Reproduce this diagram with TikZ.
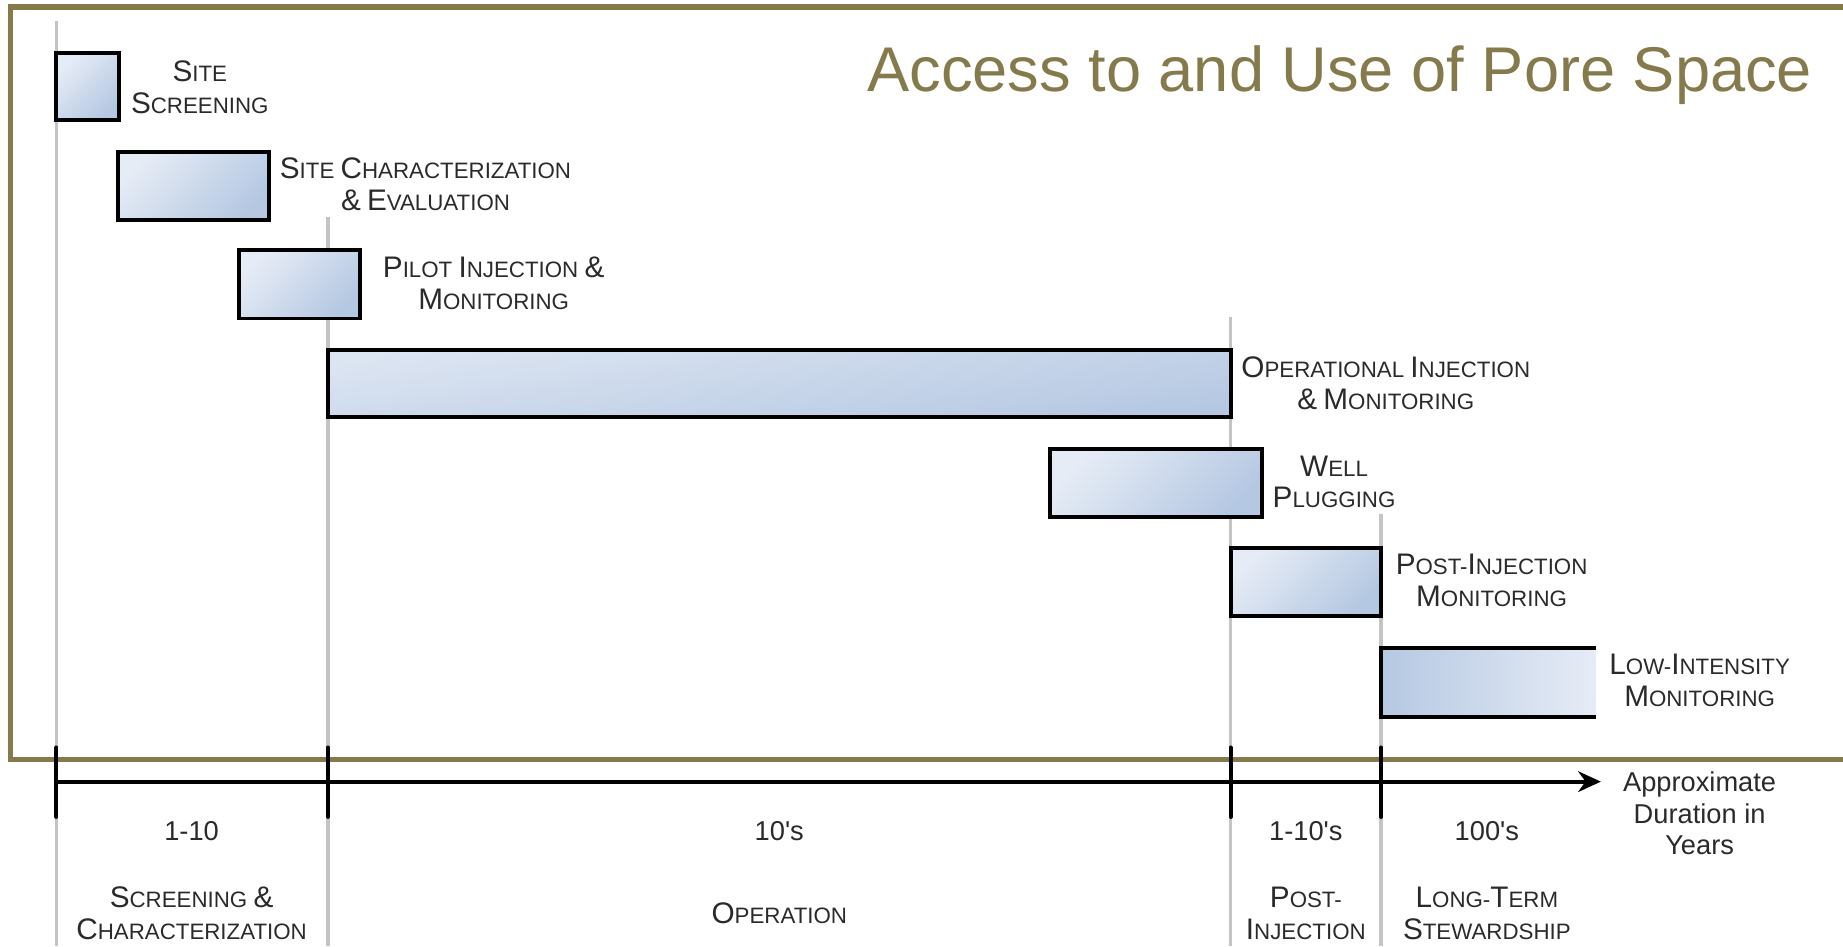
\documentclass[tikz,border=0pt]{standalone}
\usepackage{fontspec}
\setmainfont{Liberation Sans}
\usetikzlibrary{arrows.meta}

\definecolor{framegold}{HTML}{857A4B}
\definecolor{barblue}{HTML}{B5C8E2}
\definecolor{barlight}{HTML}{E6ECF6}
\definecolor{linegrey}{HTML}{C4C4C4}
\definecolor{textgrey}{HTML}{2A2A2A}

% larger first letters for the small-caps look
\newcommand\bigc[1]{{\fontsize{14.4}{15.4}\selectfont #1}}

\begin{document}
\begin{tikzpicture}[
    x=0.02cm, y=-0.02cm,
    every node/.style = {text=textgrey, align=center, font=\fontsize{10.8}{15.4}\selectfont},
    bar/.style        = {draw=black, line width=1.9pt, top color=barlight, bottom color=barblue, shading angle=45},
    longbar/.style    = {bar, top color=barlight!80!barblue, shading angle=8},
    era/.style        = {draw=linegrey, line width=1.6pt},
    tickmark/.style   = {line width=2pt, line cap=round},
    num/.style        = {font=\fontsize{13.2}{15.2}\selectfont}
    ]
      \useasboundingbox (0,0) rectangle (1568,805);

      % phase boundaries -----------------------------------------
      \draw[era] (48,18)    -- (48,805);
      \draw[era] (279,185)  -- (279,805);
      \draw[era] (1047,270) -- (1047,805);
      \draw[era] (1175,437) -- (1175,805);

      % frame ----------------------------------------------------
      \draw[framegold, line width=2.5pt] (1575,6) -- (9,6) -- (9,646) -- (1575,646);
      \node[font=\fontsize{30.6}{36}\selectfont, text=framegold, anchor=base east] (title) at (1548,78) {Access to and Use of Pore Space};

      % bars -----------------------------------------------------
      \draw[bar]     (48,45)    rectangle (101,102);
      \draw[bar]     (100,129)  rectangle (229,187);
      \draw[bar]     (203,213)  rectangle (306,271);
      \draw[longbar] (279,298)  rectangle (1047,355);
      \draw[bar]     (893,382)  rectangle (1074,440);
      \draw[bar]     (1047,466) rectangle (1175,524);
      \shade[left color=barblue, right color=barlight] (1175,551) rectangle (1358,610);
      \draw[line width=1.9pt] (1358,551) -- (1175,551) -- (1175,610) -- (1358,610);

      % bar labels -----------------------------------------------
      \node (screen)  at (170,74)   {\bigc{S}ITE\\\bigc{S}CREENING};
      \node (charact) at (362,157)  {\bigc{S}ITE \bigc{C}HARACTERIZATION\\\bigc{\&} \bigc{E}VALUATION};
      \node (pilot)   at (420,241)  {\bigc{P}ILOT \bigc{I}NJECTION \bigc{\&}\\\bigc{M}ONITORING};
      \node (operinj) at (1179,326) {\bigc{O}PERATIONAL \bigc{I}NJECTION\\\bigc{\&} \bigc{M}ONITORING};
      \node (plug)    at (1135,410) {\bigc{W}ELL\\\bigc{P}LUGGING};
      \node (postmon) at (1269,494) {\bigc{P}OST-\bigc{I}NJECTION\\\bigc{M}ONITORING};
      \node (lowmon)  at (1446,579) {\bigc{L}OW-\bigc{I}NTENSITY\\\bigc{M}ONITORING};

      % time axis ------------------------------------------------
      \coordinate (t0) at (48,665);
      \coordinate (t1) at (279,665);
      \coordinate (t2) at (1047,665);
      \coordinate (t3) at (1175,665);
      \coordinate (tend) at (1362,665);
      \draw[line width=1.9pt, -{Stealth[length=11pt, width=10pt]}] (t0) -- (tend);
      \foreach \t in {t0,t1,t2,t3}
        \draw[tickmark] ([yshift=0.58cm]\t) -- ([yshift=-0.6cm]\t);
      \node[num] (axislbl) at (1446,692) {Approximate\\Duration in\\Years};

      % durations ------------------------------------------------
      \node[num] (dur1) at (163,707)  {1-10};
      \node[num] (dur2) at (663,707)  {10\textquotesingle s};
      \node[num] (dur3) at (1111,707) {1-10\textquotesingle s};
      \node[num] (dur4) at (1265,707) {100\textquotesingle s};

      % stages ---------------------------------------------------
      \node (stage1) at (163,777)  {\bigc{S}CREENING \bigc{\&}\\\bigc{C}HARACTERIZATION};
      \node (stage2) at (663,777)  {\bigc{O}PERATION};
      \node (stage3) at (1111,777) {\bigc{P}OST-\\\bigc{I}NJECTION};
      \node (stage4) at (1265,777) {\bigc{L}ONG-\bigc{T}ERM\\\bigc{S}TEWARDSHIP};
\end{tikzpicture}
\end{document}
